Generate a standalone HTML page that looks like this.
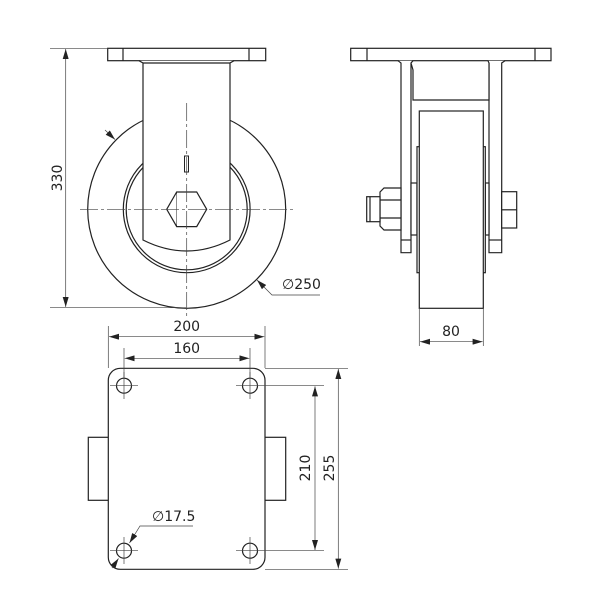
<!DOCTYPE html>
<html><head><style>html,body{margin:0;padding:0;background:#fff}svg{display:block}text{font-family:"DejaVu Sans","Liberation Sans",sans-serif;font-size:14px;fill:#222}</style></head>
<body>
<svg width="600" height="600" viewBox="0 0 600 600" xmlns="http://www.w3.org/2000/svg">
<defs>
<marker id="a" viewBox="0 0 10 6" refX="10" refY="3" markerWidth="10" markerHeight="6" orient="auto-start-reverse" markerUnits="userSpaceOnUse"><path d="M0,0 L10,3 L0,6 Z" fill="#222"/></marker>
</defs>
<g fill="none" stroke="#222" stroke-width="1.2">
<rect x="107.7" y="48.3" width="158" height="12.4" fill="#fff"/>
<line x1="123" y1="48.3" x2="123" y2="60.7"/><line x1="249" y1="48.3" x2="249" y2="60.7"/>
<circle cx="186.7" cy="209.3" r="99"/>
<circle cx="186.7" cy="209.3" r="63.4"/>
<circle cx="186.7" cy="209.3" r="60.5"/>
<path d="M139,60.7 L143,63 L143,240 Q186.7,262 230,240 L230,63 L234,60.7" fill="#fff"/>
<line x1="143" y1="63" x2="230" y2="63"/>
<polygon points="166.7,209.3 176.7,192 196.7,192 206.7,209.3 196.7,226.6 176.7,226.6" fill="#fff"/>
<line x1="176.7" y1="192" x2="176.7" y2="226.6" stroke-width="0.5"/>
<rect x="184.5" y="156" width="4" height="16" stroke-width="1"/>
</g>
<g stroke="#444" stroke-width="0.7" fill="none">
<line x1="80" y1="209.3" x2="293" y2="209.3" stroke-dasharray="18,3,3,3"/>
<line x1="186.7" y1="103" x2="186.7" y2="317" stroke-dasharray="18,3,3,3"/>
<line x1="50" y1="48.3" x2="107" y2="48.3"/>
<line x1="50" y1="307.7" x2="186" y2="307.7"/>
<line x1="65.7" y1="49" x2="65.7" y2="307" marker-start="url(#a)" marker-end="url(#a)"/>
<line x1="105" y1="130" x2="115" y2="139.5" marker-end="url(#a)"/>
<polyline points="320,295 272,295 257,280" marker-end="url(#a)"/>
</g>
<text x="0" y="0" transform="translate(62,178) rotate(-90)" text-anchor="middle">330</text>
<text x="282" y="289">∅250</text>

<g fill="#fff" stroke="#222" stroke-width="1.2">
<rect x="350.7" y="48.3" width="200.3" height="12.4"/>
<line x1="367" y1="48.3" x2="367" y2="60.7"/><line x1="535" y1="48.3" x2="535" y2="60.7"/>
<path d="M398,60.7 L401,63 L401,252.7 L411,252.7 L411,63 L413,60.7"/>
<path d="M488,60.7 L489,63 L489,252.7 L501.7,252.7 L501.7,63 L505,60.7"/>
<path d="M411,63 L413,70 L413,100 L489,100 L489,63"/>
<line x1="401" y1="240" x2="411" y2="240"/><line x1="489" y1="240" x2="501.7" y2="240"/>
<rect x="411" y="183" width="6" height="52"/><rect x="485.3" y="183" width="3.7" height="52"/>
<rect x="417" y="146.7" width="3" height="126"/><rect x="482.3" y="146.7" width="3" height="126"/>
<rect x="419.3" y="111" width="64" height="197.3"/>
<path d="M380,192 L384,188 L401,188 L401,230 L384,230 L380,226 Z"/>
<line x1="380" y1="200" x2="401" y2="200"/><line x1="380" y1="218" x2="401" y2="218"/>
<rect x="366.7" y="196.7" width="13.3" height="25"/>
<line x1="370" y1="196.7" x2="370" y2="221.7"/>
<rect x="501.7" y="191.7" width="15" height="36.3"/>
<line x1="501.7" y1="209.8" x2="516.7" y2="209.8"/>
</g>
<g stroke="#444" stroke-width="0.7" fill="none">
<line x1="419.3" y1="308" x2="419.3" y2="346"/><line x1="483.3" y1="308" x2="483.3" y2="346"/>
<line x1="420" y1="341.7" x2="482.6" y2="341.7" marker-start="url(#a)" marker-end="url(#a)"/>
</g>
<text x="451" y="336" text-anchor="middle">80</text>

<g fill="#fff" stroke="#222" stroke-width="1.2">
<rect x="88.3" y="437.3" width="25" height="63"/>
<rect x="260" y="437.3" width="25.7" height="63"/>
<rect x="108.3" y="368.3" width="156.7" height="201" rx="12"/>
<circle cx="124" cy="385.7" r="7.5"/><circle cx="250" cy="385.7" r="7.5"/>
<circle cx="124" cy="550.7" r="7.5"/><circle cx="250" cy="550.7" r="7.5"/>
</g>
<g stroke="#444" stroke-width="0.7" fill="none">
<line x1="110" y1="385.7" x2="138" y2="385.7"/><line x1="124" y1="372" x2="124" y2="399"/>
<line x1="236" y1="385.7" x2="324" y2="385.7"/><line x1="250" y1="372" x2="250" y2="399"/>
<line x1="110" y1="550.7" x2="138" y2="550.7"/><line x1="124" y1="537" x2="124" y2="564"/>
<line x1="236" y1="550.7" x2="324" y2="550.7"/><line x1="250" y1="537" x2="250" y2="564"/>
<line x1="108.3" y1="368" x2="108.3" y2="326"/><line x1="265" y1="368" x2="265" y2="326"/>
<line x1="109" y1="336.7" x2="264.3" y2="336.7" marker-start="url(#a)" marker-end="url(#a)"/>
<line x1="124" y1="378" x2="124" y2="348"/><line x1="250" y1="378" x2="250" y2="348"/>
<line x1="124.7" y1="358.3" x2="249.3" y2="358.3" marker-start="url(#a)" marker-end="url(#a)"/>
<line x1="265" y1="368.3" x2="348" y2="368.3"/><line x1="265" y1="569.3" x2="348" y2="569.3"/>
<line x1="315" y1="386.4" x2="315" y2="550" marker-start="url(#a)" marker-end="url(#a)"/>
<line x1="338.3" y1="369" x2="338.3" y2="568.6" marker-start="url(#a)" marker-end="url(#a)"/>
<polyline points="193,526 140,526 129.5,543" marker-end="url(#a)"/>
<line x1="112" y1="568" x2="118.5" y2="558.5" marker-end="url(#a)"/>
</g>
<text x="186.7" y="331" text-anchor="middle">200</text>
<text x="186.7" y="353" text-anchor="middle">160</text>
<text x="0" y="0" transform="translate(310,468) rotate(-90)" text-anchor="middle">210</text>
<text x="0" y="0" transform="translate(334,468) rotate(-90)" text-anchor="middle">255</text>
<text x="152" y="521">∅17.5</text>
</svg>
</body></html>
